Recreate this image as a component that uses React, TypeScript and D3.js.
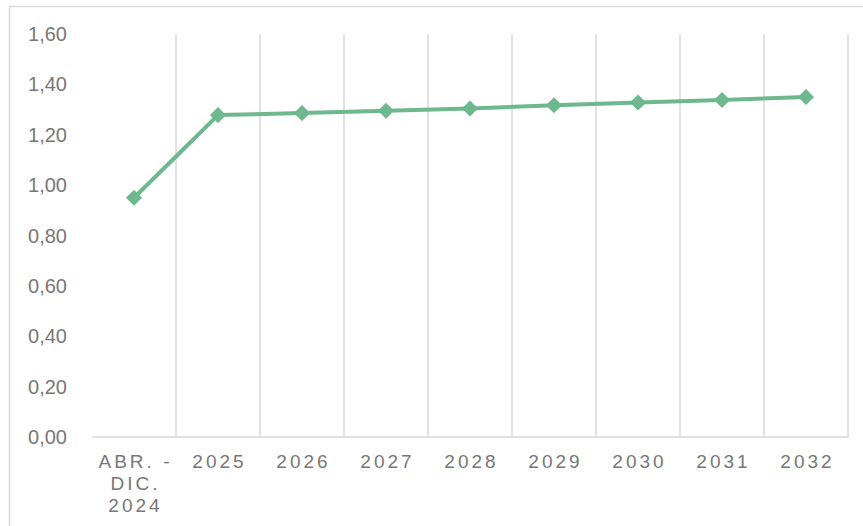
import React from "react";
import * as d3 from "d3";

const categories: string[][] = [
  ["ABR. -", "DIC.", "2024"],
  ["2025"], ["2026"], ["2027"], ["2028"], ["2029"], ["2030"], ["2031"], ["2032"],
];
const values: number[] = [0.95, 1.278, 1.286, 1.295, 1.304, 1.317, 1.328, 1.338, 1.35];
const yTicks: number[] = [0, 0.2, 0.4, 0.6, 0.8, 1.0, 1.2, 1.4, 1.6];

const W = 863, H = 526;
const left = 92, right = 848, top = 34, bottom = 437;
const green = "#6db88e";
const grid = "#d9d9d9";
const textColor = "#777777";

export default function App() {
  const x = d3.scaleBand<number>().domain(categories.map((_, i) => i)).range([left, right]).padding(0);
  const y = d3.scaleLinear().domain([0, 1.6]).range([bottom, top]);
  const cx = (i: number) => (x(i) as number) + x.bandwidth() / 2;
  const line = d3.line<number>().x((_, i) => cx(i)).y((d) => y(d));
  const fmt = (v: number) => d3.format(".2f")(v).replace(".", ",");
  const diamond = d3.symbol().type(d3.symbolDiamond2).size(165)();

  return (
    <svg width={W} height={H} style={{ position: "absolute", left: 0, top: 0, fontFamily: "'Liberation Sans', Arial, sans-serif" }}>
      <rect x={0} y={0} width={W} height={H} fill="#fff" />
      <rect x={9.5} y={6.5} width={870} height={540} fill="none" stroke={grid} strokeWidth={1.5} />
      {categories.map((_, i) => (
        <line key={"g" + i} x1={(x(i) as number) + x.bandwidth()} x2={(x(i) as number) + x.bandwidth()} y1={top} y2={bottom} stroke={grid} strokeWidth={1.5} />
      ))}
      <line x1={left} x2={right} y1={bottom} y2={bottom} stroke={grid} strokeWidth={1.5} />
      {yTicks.map((t) => (
        <text key={"y" + t} x={67} y={y(t)} dy="0.35em" textAnchor="end" fontSize={20} fill={textColor}>
          {fmt(t)}
        </text>
      ))}
      {categories.map((lines, i) => (
        <text key={"x" + i} textAnchor="middle" fontSize={19} fill={textColor} letterSpacing={3}>
          {lines.map((l, j) => (
            <tspan key={j} x={cx(i) + 1.5} y={468 + j * 22}>{l}</tspan>
          ))}
        </text>
      ))}
      <path d={line(values) || ""} fill="none" stroke={green} strokeWidth={4} strokeLinejoin="round" />
      {values.map((v, i) => (
        <path key={"m" + i} d={diamond || ""} transform={`translate(${cx(i)},${y(v)})`} fill={green} />
      ))}
    </svg>
  );
}
